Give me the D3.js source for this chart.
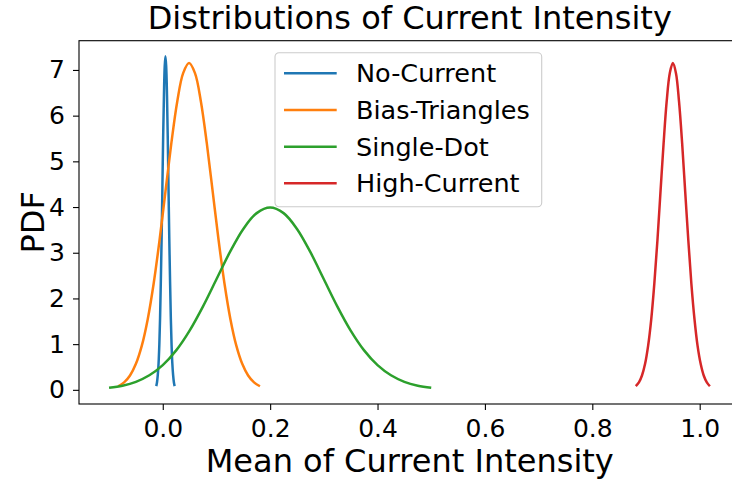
<!DOCTYPE html>
<html>
<head>
<meta charset="utf-8">
<script src="https://cdn.jsdelivr.net/npm/d3@7"></script>
<style>
    body { margin: 0; background: #fff; }
    text { font-family: "DejaVu Sans", sans-serif; fill: #000; }
</style>
</head>
<body>
<div id="chart"></div>
<script>
// Dados
var series_names = ['No-Current', 'Bias-Triangles', 'Single-Dot', 'High-Current'];
var series_colors = ['#1f77b4', '#ff7f0e', '#2ca02c', '#d62728'];

var no_current_x = [-0.0121, -0.0107, -0.0093, -0.0078, -0.0064, -0.0050, -0.0036, -0.0021, -0.0007, 0.0007, 0.0022, 0.0036, 0.0050,
    0.0064, 0.0079, 0.0093, 0.0107, 0.0121, 0.0136, 0.0150, 0.0164, 0.0178, 0.0193, 0.0207, 0.0221];
var no_current_y = [0.081, 0.166, 0.320, 0.581, 0.988, 1.579, 2.370, 3.342, 4.427, 5.510, 6.442, 7.075, 7.300,
    7.075, 6.442, 5.510, 4.427, 3.342, 2.370, 1.579, 0.988, 0.581, 0.320, 0.166, 0.081];

var bias_x = [-0.083, -0.072, -0.061, -0.050, -0.039, -0.028, -0.017, -0.006, 0.005, 0.016, 0.027, 0.038, 0.049,
    0.060, 0.071, 0.082, 0.093, 0.104, 0.115, 0.126, 0.137, 0.148, 0.159, 0.170, 0.181];
var bias_y = [0.079, 0.163, 0.314, 0.569, 0.967, 1.547, 2.322, 3.273, 4.336, 5.397, 6.310, 6.930, 7.150,
    6.930, 6.310, 5.397, 4.336, 3.273, 2.322, 1.547, 0.967, 0.569, 0.314, 0.163, 0.079];

var single_x = [-0.100, -0.075, -0.050, -0.025, 0.000, 0.025, 0.050, 0.075, 0.100, 0.125, 0.150, 0.175, 0.200,
    0.225, 0.250, 0.275, 0.300, 0.325, 0.350, 0.375, 0.400, 0.425, 0.450, 0.475, 0.500];
var single_y = [0.044, 0.091, 0.175, 0.318, 0.540, 0.863, 1.296, 1.827, 2.420, 3.012, 3.521, 3.867, 3.990,
    3.867, 3.521, 3.012, 2.420, 1.827, 1.296, 0.863, 0.540, 0.318, 0.175, 0.091, 0.044];

var high_x = [0.8810, 0.8868, 0.8925, 0.8983, 0.9040, 0.9098, 0.9155, 0.9213, 0.9270, 0.9328, 0.9385, 0.9443, 0.9500,
    0.9558, 0.9615, 0.9673, 0.9730, 0.9788, 0.9845, 0.9903, 0.9960, 1.0018, 1.0075, 1.0133, 1.0190];
var high_y = [0.079, 0.163, 0.314, 0.569, 0.967, 1.547, 2.322, 3.273, 4.336, 5.397, 6.310, 6.930, 7.150,
    6.930, 6.310, 5.397, 4.336, 3.273, 2.322, 1.547, 0.967, 0.569, 0.314, 0.163, 0.079];

var x_ticks = [0.0, 0.2, 0.4, 0.6, 0.8, 1.0];
var y_ticks = [0, 1, 2, 3, 4, 5, 6, 7];

var chart_width = 732;
var chart_height = 485;
var plot = {left: 79, right: 740.5, top: 40.7, bottom: 404};

// Criar SVG
var svg = d3.select('#chart')
    .append('svg')
    .attr('width', chart_width)
    .attr('height', chart_height);

// Criar Escalas
var x_scale = d3.scaleLinear()
    .domain([-0.156, 1.076])
    .range([plot.left, plot.right]);

var y_scale = d3.scaleLinear()
    .domain([-0.31, 7.64])
    .range([plot.bottom, plot.top]);

// Curvas
var all_x = [no_current_x, bias_x, single_x, high_x];
var all_y = [no_current_y, bias_y, single_y, high_y];

var line = d3.line()
    .x(function (d) { return x_scale(d[0]); })
    .y(function (d) { return y_scale(d[1]); })
    .curve(d3.curveCatmullRom);

svg.append('defs').append('clipPath')
    .attr('id', 'clip')
    .append('rect')
    .attr('x', plot.left)
    .attr('y', plot.top)
    .attr('width', plot.right - plot.left)
    .attr('height', plot.bottom - plot.top);

svg.append('g')
    .attr('clip-path', 'url(#clip)')
    .selectAll('path')
    .data(series_names)
    .enter()
    .append('path')
    .attr('d', function (d, i) {
        return line(d3.zip(all_x[i], all_y[i]));
    })
    .attr('fill', 'none')
    .attr('stroke', function (d, i) { return series_colors[i]; })
    .attr('stroke-width', 2.5)
    .attr('stroke-linejoin', 'round')
    .attr('stroke-linecap', 'butt');

// Eixos
var x_axis = d3.axisBottom(x_scale)
    .tickValues(x_ticks)
    .tickFormat(d3.format('.1f'))
    .tickSize(6)
    .tickPadding(9);

var y_axis = d3.axisLeft(y_scale)
    .tickValues(y_ticks)
    .tickFormat(d3.format('d'))
    .tickSize(6)
    .tickPadding(8);

var gx = svg.append('g')
    .attr('transform', 'translate(0,' + plot.bottom + ')')
    .call(x_axis);
var gy = svg.append('g')
    .attr('transform', 'translate(' + plot.left + ',0)')
    .call(y_axis);

[gx, gy].forEach(function (g) {
    g.select('.domain').remove();
    g.selectAll('line').attr('stroke', '#000').attr('stroke-width', 1.1);
    g.selectAll('text')
        .style('font-size', '25px')
        .style('font-family', '"DejaVu Sans", sans-serif')
        .attr('fill', '#000');
});

// Moldura
svg.append('rect')
    .attr('x', plot.left)
    .attr('y', plot.top)
    .attr('width', plot.right - plot.left)
    .attr('height', plot.bottom - plot.top)
    .attr('fill', 'none')
    .attr('stroke', '#000')
    .attr('stroke-width', 1.1);

// Titulo e rotulos
svg.append('text')
    .text('Distributions of Current Intensity')
    .attr('x', (plot.left + plot.right) / 2)
    .attr('y', 29)
    .attr('text-anchor', 'middle')
    .style('font-size', '32px');

svg.append('text')
    .text('Mean of Current Intensity')
    .attr('x', (plot.left + plot.right) / 2)
    .attr('y', 472)
    .attr('text-anchor', 'middle')
    .style('font-size', '32px');

svg.append('text')
    .text('PDF')
    .attr('transform', 'translate(44,' + (plot.top + plot.bottom) / 2 + ') rotate(-90)')
    .attr('text-anchor', 'middle')
    .style('font-size', '32px');

// Legenda
var legend = svg.append('g')
    .attr('transform', 'translate(275,52.7)');

legend.append('rect')
    .attr('x', 0)
    .attr('y', 0)
    .attr('width', 266.7)
    .attr('height', 154)
    .attr('rx', 4)
    .attr('fill', '#fff')
    .attr('fill-opacity', 0.8)
    .attr('stroke', '#cccccc')
    .attr('stroke-width', 1.1);

var items = legend.selectAll('g.item')
    .data(series_names)
    .enter()
    .append('g')
    .attr('class', 'item')
    .attr('transform', function (d, i) {
        return 'translate(0,' + (20.6 + i * 36.67) + ')';
    });

items.append('line')
    .attr('x1', 9)
    .attr('x2', 61.7)
    .attr('stroke', function (d, i) { return series_colors[i]; })
    .attr('stroke-width', 2.5);

items.append('text')
    .text(function (d) { return d; })
    .attr('x', 81)
    .attr('y', 9)
    .style('font-size', '25.5px');
</script>
</body>
</html>
